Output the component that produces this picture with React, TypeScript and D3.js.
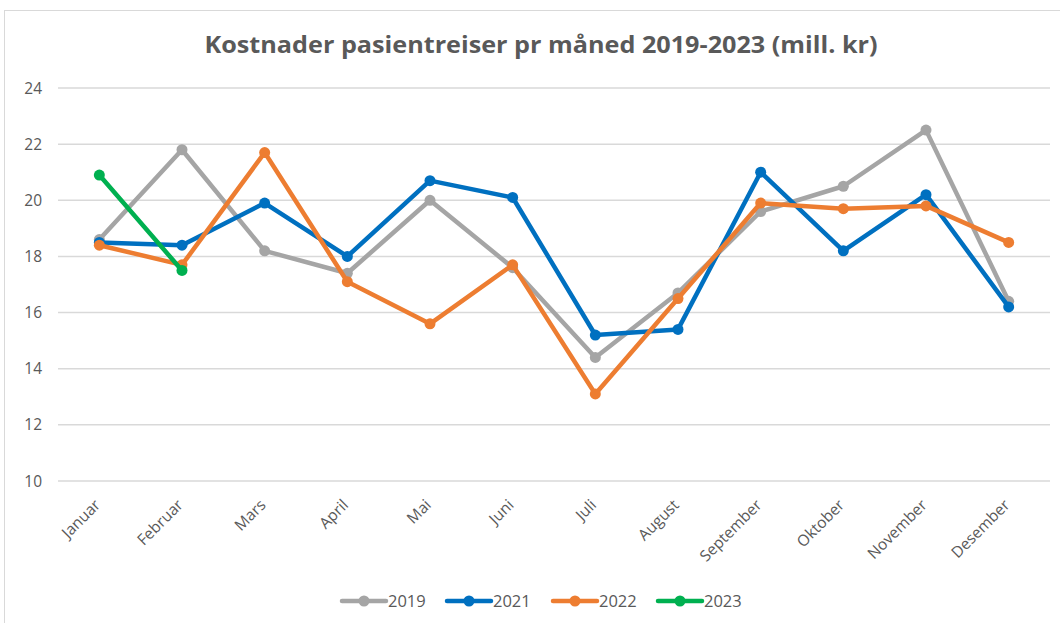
import React from "react";
import * as d3 from "d3";

const months = ["Januar","Februar","Mars","April","Mai","Juni","Juli","August","September","Oktober","November","Desember"];
const s2019 = [18.6, 21.8, 18.2, 17.4, 20.0, 17.6, 14.4, 16.7, 19.6, 20.5, 22.5, 16.4];
const s2021 = [18.5, 18.4, 19.9, 18.0, 20.7, 20.1, 15.2, 15.4, 21.0, 18.2, 20.2, 16.2];
const s2022 = [18.4, 17.7, 21.7, 17.1, 15.6, 17.7, 13.1, 16.5, 19.9, 19.7, 19.8, 18.5];
const s2023 = [20.9, 17.5];
const yTicks = [10, 12, 14, 16, 18, 20, 22, 24];
const seriesNames = ["2019", "2021", "2022", "2023"];
const seriesColors = ["#A5A5A5", "#0070C0", "#ED7D31", "#00B050"];
const title = "Kostnader pasientreiser pr måned 2019-2023 (mill. kr)";

export default function App() {
  const W = 1060, H = 623;
  const left = 58, right = 1050, top = 88, bottom = 481;
  const x = d3.scaleBand<string>().domain(months).range([left, right]);
  const cx = (m: string) => (x(m) as number) + x.bandwidth() / 2;
  const y = d3.scaleLinear().domain([10, 24]).range([bottom, top]);
  const allSeries = [s2019, s2021, s2022, s2023];
  const line = d3.line<number>().x((_, i) => cx(months[i])).y((d) => y(d));
  const font = "'Open Sans', sans-serif";
  const legendX = [342, 447, 553, 658];
  return (
    <svg width={W} height={H} style={{ position: "absolute", left: 0, top: 0 }} fontFamily={font}>
      <rect x={0} y={0} width={W} height={H} fill="#fff" />
      <rect x={4.5} y={10.5} width={1060} height={620} fill="#fff" stroke="#D9D9D9" strokeWidth={1} />
      <text x={541} y={53} textAnchor="middle" fontSize={23} fontWeight="bold" fill="#595959"
        fontFamily="'Liberation Sans Narrow', 'Open Sans', sans-serif" textLength={673} lengthAdjust="spacingAndGlyphs">{title}</text>
      {yTicks.map((t) => (
        <g key={t}>
          <line x1={left} x2={right} y1={y(t)} y2={y(t)} stroke="#D9D9D9" strokeWidth={1.5} />
          <text x={42} y={y(t) + 5.5} textAnchor="end" fontSize={15.5} fill="#595959">{t}</text>
        </g>
      ))}
      {months.map((m) => (
        <text key={m} transform={`translate(${cx(m) + 2},${506}) rotate(-45)`} textAnchor="end" fontSize={15.5} fill="#595959">{m}</text>
      ))}
      {allSeries.map((s, k) => (
        <g key={k}>
          <path d={line(s) as string} fill="none" stroke={seriesColors[k]} strokeWidth={4.5} strokeLinejoin="round" strokeLinecap="round" />
          {s.map((v, i) => (
            <circle key={i} cx={cx(months[i])} cy={y(v)} r={5.5} fill={seriesColors[k]} />
          ))}
        </g>
      ))}
      {seriesNames.map((n, k) => (
        <g key={n}>
          <line x1={legendX[k]} x2={legendX[k] + 44} y1={601} y2={601} stroke={seriesColors[k]} strokeWidth={4.5} strokeLinecap="round" />
          <circle cx={legendX[k] + 22} cy={601} r={5.5} fill={seriesColors[k]} />
          <text x={legendX[k] + 46} y={607} fontSize={16.5} fill="#595959">{n}</text>
        </g>
      ))}
    </svg>
  );
}
